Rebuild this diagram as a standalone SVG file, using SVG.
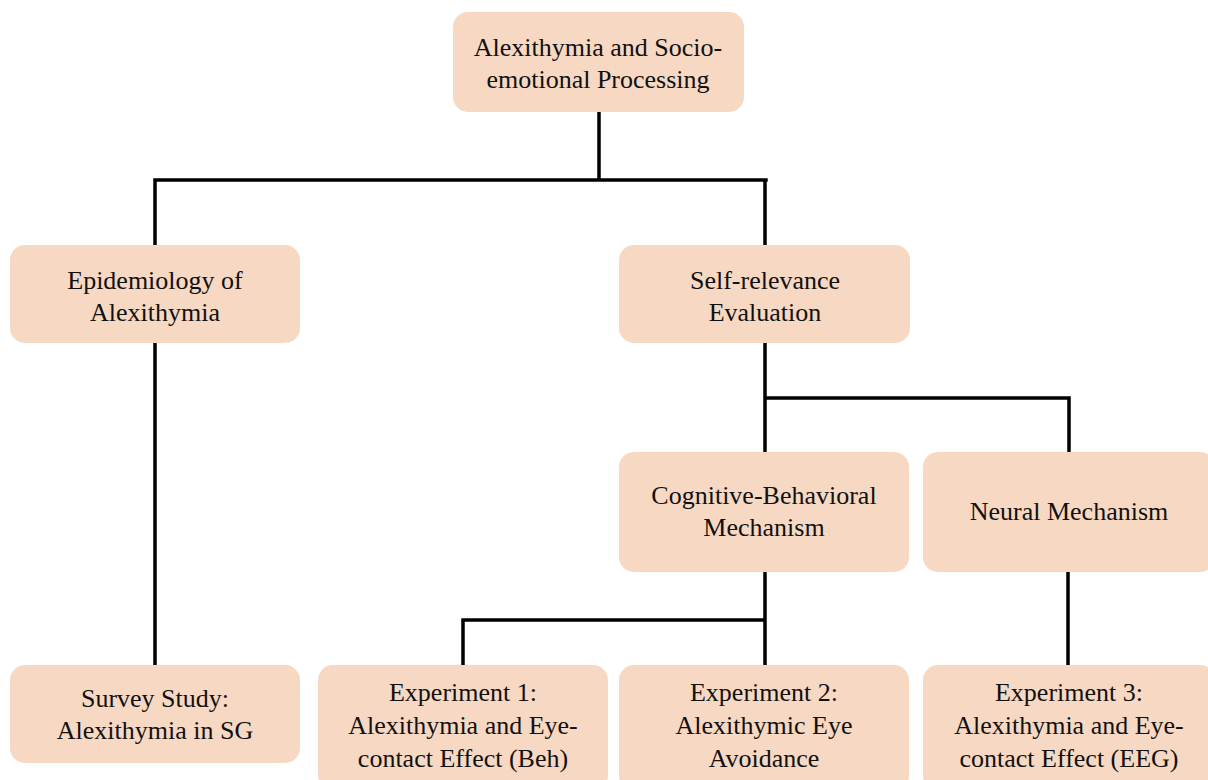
<svg xmlns="http://www.w3.org/2000/svg" width="1208" height="780" viewBox="0 0 1208 780">
<style>
.box{fill:#F7D8C3;}
.t{font-family:"Liberation Serif",serif;font-size:26px;fill:#111;text-anchor:middle;}
.c{stroke:#000;stroke-width:3.5;fill:none;stroke-linecap:square;}
</style>
<rect width="1208" height="780" fill="#fff"/>
<g id="connectors">
<path class="c" d="M599 112V180M155 180H766M155 180V245M765 180V245"/>
<path class="c" d="M155 343V665"/>
<path class="c" d="M765 343V452M765 398H1069V452"/>
<path class="c" d="M765 572V665M765 620H463V665"/>
<path class="c" d="M1068 572V665"/>
</g>
<g id="root"><rect class="box" x="453" y="12" width="291" height="100" rx="15"/>
<text class="t" x="598" y="56">Alexithymia and Socio-</text>
<text class="t" x="598" y="88">emotional Processing</text></g>
<g id="epidemiology"><rect class="box" x="10" y="245" width="290" height="98" rx="15"/>
<text class="t" x="155" y="289">Epidemiology of</text>
<text class="t" x="155" y="321">Alexithymia</text></g>
<g id="selfrelevance"><rect class="box" x="619" y="245" width="291" height="98" rx="15"/>
<text class="t" x="765" y="289">Self-relevance</text>
<text class="t" x="765" y="321">Evaluation</text></g>
<g id="cognitive"><rect class="box" x="619" y="452" width="290" height="120" rx="15"/>
<text class="t" x="764" y="504">Cognitive-Behavioral</text>
<text class="t" x="764" y="536">Mechanism</text></g>
<g id="neural"><rect class="box" x="923" y="452" width="292" height="120" rx="15"/>
<text class="t" x="1069" y="520">Neural Mechanism</text></g>
<g id="survey"><rect class="box" x="10" y="665" width="290" height="98" rx="15"/>
<text class="t" x="155" y="707">Survey Study:</text>
<text class="t" x="155" y="739">Alexithymia in SG</text></g>
<g id="exp1"><rect class="box" x="318" y="665" width="290" height="125" rx="15"/>
<text class="t" x="463" y="701">Experiment 1:</text>
<text class="t" x="463" y="734">Alexithymia and Eye-</text>
<text class="t" x="463" y="767">contact Effect (Beh)</text></g>
<g id="exp2"><rect class="box" x="619" y="665" width="290" height="125" rx="15"/>
<text class="t" x="764" y="701">Experiment 2:</text>
<text class="t" x="764" y="734">Alexithymic Eye</text>
<text class="t" x="764" y="767">Avoidance</text></g>
<g id="exp3"><rect class="box" x="923" y="665" width="292" height="125" rx="15"/>
<text class="t" x="1069" y="701">Experiment 3:</text>
<text class="t" x="1069" y="734">Alexithymia and Eye-</text>
<text class="t" x="1069" y="767">contact Effect (EEG)</text></g>
</svg>
